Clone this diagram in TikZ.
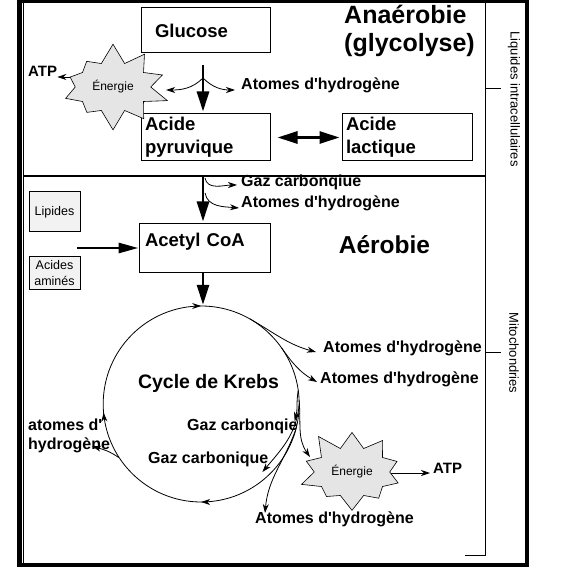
\documentclass[tikz,border=0pt]{standalone}
\usepackage{fontspec}
\setmainfont{Liberation Sans}
\usetikzlibrary{arrows.meta,shapes.symbols,decorations.markings}

\begin{document}
\begin{tikzpicture}[x=1pt,y=1pt,
    box/.style={draw, line width=1pt, inner sep=0pt},
    heavy/.style={line width=2.8pt, -{Triangle[length=20pt,width=12pt]}},
    twoway/.style={line width=2.8pt, {Triangle[length=20pt,width=12pt]}-{Triangle[length=20pt,width=12pt]}},
    fine/.style={line width=0.8pt, -{Stealth[length=9pt,width=6pt]}},
    burst/.style={starburst, draw, fill=gray!20, line width=0.6pt, starburst points=10,
        starburst point height=20pt, minimum width=84pt, minimum height=74pt,
        inner xsep=6pt, inner ysep=11pt, font=\fontsize{12}{14}\selectfont},
    lbl/.style={inner sep=0pt, font=\bfseries\fontsize{16}{19}\selectfont},
    side/.style={inner sep=0pt, rotate=-90, font=\fontsize{13}{15}\selectfont},
    cyclemarks/.style={postaction={decorate}, decoration={markings,
        mark=at position 0.25 with {\arrow{Stealth[length=9pt,width=6pt]}},
        mark=at position 0.486 with {\arrow{Stealth[length=9pt,width=6pt]}},
        mark=at position 0.75 with {\arrow{Stealth[length=9pt,width=6pt]}}}}]
\useasboundingbox (0,0) rectangle (577,576);

% cadre
\draw[line width=3pt] (17,574.5) -- (529,574.5);
\draw[line width=5pt] (19.5,576) -- (19.5,9.5);
\draw[line width=1pt] (23.5,574) -- (23.5,11);
\draw[line width=4pt] (17,11.5) -- (529,11.5);
\draw[line width=4pt] (527,576) -- (527,9.5);
\draw[line width=1pt] (485,574) -- (485,21) -- (465,21);
\draw[line width=1pt] (485,487) -- (501,487);
\draw[line width=1pt] (485,224) -- (501,224);
\draw[line width=1.2pt] (23,400) -- (485,400);

\node[side] (liquides) at (514,477) {Liquides intracellulaires};
\node[side] (mito) at (514,223) {Mitochondries};

% anaerobie
\node[box, minimum width=129, minimum height=45, text width=101, inner xsep=14,
    align=left, font=\bfseries\fontsize{18.5}{22}\selectfont] (glucose) at (205.5,545.5) {Glucose};
\node[box, minimum width=129, minimum height=47, text width=121, inner xsep=4,
    align=left, font=\bfseries\fontsize{18.5}{23}\selectfont] (pyruv) at (205.5,438.5) {Acide\\pyruvique};
\node[box, minimum width=130, minimum height=47, text width=122, inner xsep=4,
    align=left, font=\bfseries\fontsize{18.5}{23}\selectfont] (lactique) at (407,438.5) {Acide\\lactique};
\node[inner sep=0pt, anchor=north west, align=left,
    font=\bfseries\fontsize{25}{28}\selectfont] (anaer) at (344,571) {Anaérobie\\(glycolyse)};

\node[inner sep=0pt, anchor=base west, font=\bfseries\fontsize{15}{18}\selectfont] (atp1) at (28,499) {ATP};
\node[lbl, anchor=base west] (hyd1) at (241,486) {Atomes d\textquotesingle hydrogène};

\draw[fine] (atp1.base east -| 113,0) -- (atp1.base east);
\node[burst, random starburst=7] (energie1) at (113,489) {Énergie};

\draw[heavy, shorten <=12pt, shorten >=2pt] ([xshift=-2.5]glucose.south) -- ([xshift=-2.5]pyruv.north);
\coordinate (split1) at (203,498);
\draw[fine] (split1) to[out=-135,in=0] ([xshift=15,yshift=-3]energie1.east);
\draw[fine] (split1) to[out=-45,in=180] ([xshift=-6]hyd1.base west);
\draw[twoway, shorten <=7pt, shorten >=2pt] (pyruv.east) -- (lactique.west);

% aerobie
\node[lbl, anchor=base west] (gaz1) at (241,389) {Gaz carbonqiue};
\node[lbl, anchor=base west] (hyd2) at (241,368) {Atomes d\textquotesingle hydrogène};
\node[box, minimum width=131, minimum height=48, text width=119, inner xsep=6, inner ysep=9,
    text height=14, text depth=16, align=left,
    font=\bfseries\fontsize{18.5}{22}\selectfont] (acetyl) at (204.5,328) {Acetyl CoA};
\node[inner sep=0pt, anchor=base, font=\bfseries\fontsize{24.5}{28}\selectfont] (aerob) at (384.5,322) {Aérobie};
\node[box, fill=gray!10, minimum width=51, minimum height=40, align=center,
    font=\fontsize{12.5}{15}\selectfont] (lipides) at (54.5,364) {Lipides};
\node[box, fill=gray!10, minimum width=51, minimum height=32, align=center,
    font=\fontsize{12.5}{16}\selectfont] (amines) at (54.5,303) {Acides\\aminés};

\coordinate (split2) at (203,400);
\draw[heavy, shorten >=2pt] (split2) -- (acetyl.north -| split2);
\coordinate (split3) at (205,398);
\coordinate (split4) at (205,383);
\draw[fine] (split3) to[out=-80,in=180] ([xshift=-4,yshift=2]gaz1.base west);
\draw[fine] (split4) to[out=-80,in=175] ([xshift=-2]hyd2.base west);
\coordinate (feed) at (77,328);
\draw[line width=2.8pt, -{Triangle[length=20pt,width=10pt]}] (feed) -- (acetyl.west);

% cycle de Krebs
\node[circle, minimum size=196, inner sep=0pt] (krebs) at (201,172) {};
\draw[line width=0.8pt, cyclemarks] (krebs.east) arc[start angle=0, end angle=-360, radius=98];
\draw[heavy, shorten >=1pt] (acetyl.south -| 203,0) -- (krebs.north -| 203,0);
\node[inner sep=0pt, anchor=base, font=\bfseries\fontsize{19.5}{23}\selectfont] (cycle) at (208.5,188) {Cycle de Krebs};
\node[lbl, anchor=base west] (gaz2) at (187,146) {Gaz carbonqie};
\node[lbl, anchor=base west] (gaz3) at (148,113) {Gaz carbonique};
\node[lbl, anchor=north west, align=left] (hydl) at (28,157) {atomes d\textquotesingle\\hydrogène};
\node[lbl, anchor=base west] (hyd3) at (323,224) {Atomes d\textquotesingle hydrogène};
\node[lbl, anchor=base west] (hyd4) at (320,193) {Atomes d\textquotesingle hydrogène};
\node[lbl, anchor=base west] (hyd5) at (255,53) {Atomes d\textquotesingle hydrogène};
\node[inner sep=0pt, anchor=base west, font=\bfseries\fontsize{15}{18}\selectfont] (atp2) at (433,103) {ATP};

\draw[fine] (atp2.base west -| 352,0) -- ([xshift=-3]atp2.base west);
\node[burst, random starburst=11] (energie2) at (352,104) {Énergie};

\draw[fine] (krebs.60) to[out=-30,in=165] ([xshift=-7]hyd3.base west);
\draw[fine] (krebs.35) to[out=-55,in=150] ([xshift=-3,yshift=1]hyd4.base west);
\draw[fine] (krebs.8) to[out=-100,in=75] ([xshift=-3,yshift=9]gaz2.base east);
\draw[fine] (krebs.0) to[out=-95,in=50] ([xshift=-6,yshift=-9]gaz3.base east);
\draw[fine] (krebs.2) to[out=-85,in=125] ([xshift=-42,yshift=15]energie2.center);
\draw[fine] (krebs.-15) to[out=-110,in=85] ([xshift=10,yshift=10]hyd5.base west);
\draw[fine] (krebs.213) to[out=145,in=-15] ([xshift=-18,yshift=7]hydl.south east);
\end{tikzpicture}
\end{document}
